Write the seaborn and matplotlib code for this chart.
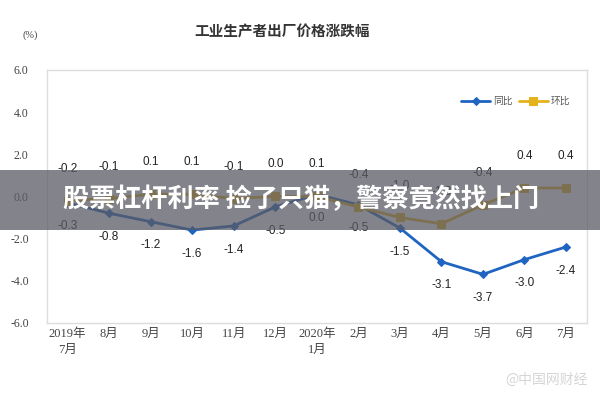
import matplotlib
matplotlib.use("Agg")
import matplotlib.pyplot as plt
import seaborn as sns
import pandas as pd
from matplotlib.patches import Rectangle

# ---- data ----
months = ["2019年\n7月", "8月", "9月", "10月", "11月", "12月", "2020年\n1月",
          "2月", "3月", "4月", "5月", "6月", "7月"]
yoy = [-0.3, -0.8, -1.2, -1.6, -1.4, -0.5, 0.1, -0.4, -1.5, -3.1, -3.7, -3.0, -2.4]
mom = [-0.2, -0.1, 0.1, 0.1, -0.1, 0.0, 0.0, -0.5, -1.0, -1.3, -0.4, 0.4, 0.4]
top_labels = ["-0.2", "-0.1", "0.1", "0.1", "-0.1", "0.0", "0.1",
              "-0.4", "-1.0", "-1.3", "-0.4", "0.4", "0.4"]
bottom_labels = ["-0.3", "-0.8", "-1.2", "-1.6", "-1.4", "-0.5", "0.0",
                 "-0.5", "-1.5", "-3.1", "-3.7", "-3.0", "-2.4"]
yticks = [6.0, 4.0, 2.0, 0.0, -2.0, -4.0, -6.0]
series_names = ["同比", "环比"]

sns.set_theme(style="white")
plt.rcParams["font.family"] = ["Noto Sans CJK SC", "DejaVu Sans"]
plt.rcParams["axes.unicode_minus"] = False

fig = plt.figure(figsize=(6, 4), dpi=100)
ax = fig.add_axes([0.078, 0.193, 0.900, 0.632])

idx = list(range(len(months)))
df = pd.DataFrame({"x": idx, "同比": yoy, "环比": mom})

blue = "#1f64c0"
gold = "#e3b21c"
sns.lineplot(data=df, x="x", y="同比", ax=ax, color=blue, lw=2.0,
             marker="D", markersize=4.5, markeredgecolor=blue, label=series_names[0])
sns.lineplot(data=df, x="x", y="环比", ax=ax, color=gold, lw=2.0,
             marker="s", markersize=6, markeredgecolor=gold, label=series_names[1])

for i in idx:
    ax.annotate(top_labels[i], (i, mom[i]), xytext=(0, 23), textcoords="offset points",
                ha="center", va="center", fontsize=8.5, color="#222222",
                family=["Liberation Sans", "DejaVu Sans"])
    ax.annotate(bottom_labels[i], (i, yoy[i]), xytext=(0, -17), textcoords="offset points",
                ha="center", va="center", fontsize=8.5, color="#222222",
                family=["Liberation Sans", "DejaVu Sans"])

ax.set_xlim(-0.5, len(months) - 0.5)
ax.set_ylim(-6, 6)
ax.set_yticks(yticks)
ax.set_yticklabels([f"{v:.1f}" for v in yticks], family=["Liberation Serif"],
                   fontsize=8.5, color="#444444")
ax.set_xticks(idx)
ax.set_xticklabels(months, family=["Liberation Serif", "Noto Sans CJK SC"],
                   fontsize=9, color="#444444", linespacing=1.45)
ax.tick_params(axis="y", length=3, color="#cccccc", pad=10)
ax.tick_params(axis="x", length=0, pad=4)
ax.set_xlabel("")
ax.set_ylabel("")
for s in ax.spines.values():
    s.set_color("#dddddd")
    s.set_linewidth(1.0)

leg = ax.legend(loc="center right", bbox_to_anchor=(0.965, 0.7475),
                bbox_transform=fig.transFigure, ncol=2, frameon=False,
                handlelength=3, handletextpad=0.3, columnspacing=0.6,
                prop={"family": ["Noto Sans CJK SC"], "size": 7})
for t in leg.get_texts():
    t.set_color("#555555")

fig.text(0.47, 0.92, "工业生产者出厂价格涨跌幅", ha="center", va="center",
         fontsize=10.5, fontweight="bold", color="#333333")
fig.text(0.05, 0.912, "(%)", ha="center", va="center", fontsize=7.5,
         color="#444444", family=["Liberation Serif"])

# banner overlay
fig.patches.append(Rectangle((0, 1 - 230 / 400), 1, 60 / 400, transform=fig.transFigure,
                             facecolor="#5a5a64", alpha=0.75, zorder=5, edgecolor="none"))
fig.text(0.105, 1 - 200 / 400, "股票杠杆利率 捡了只猫，警察竟然找上门",
         ha="left", va="center", fontsize=18.8, fontweight="bold", color="white", zorder=6)

# watermark
fig.text(0.98, 0.05, "@中国网财经", ha="right", va="center", fontsize=10,
         color="#d5d5d5")

fig.savefig("out.png", dpi=100)
